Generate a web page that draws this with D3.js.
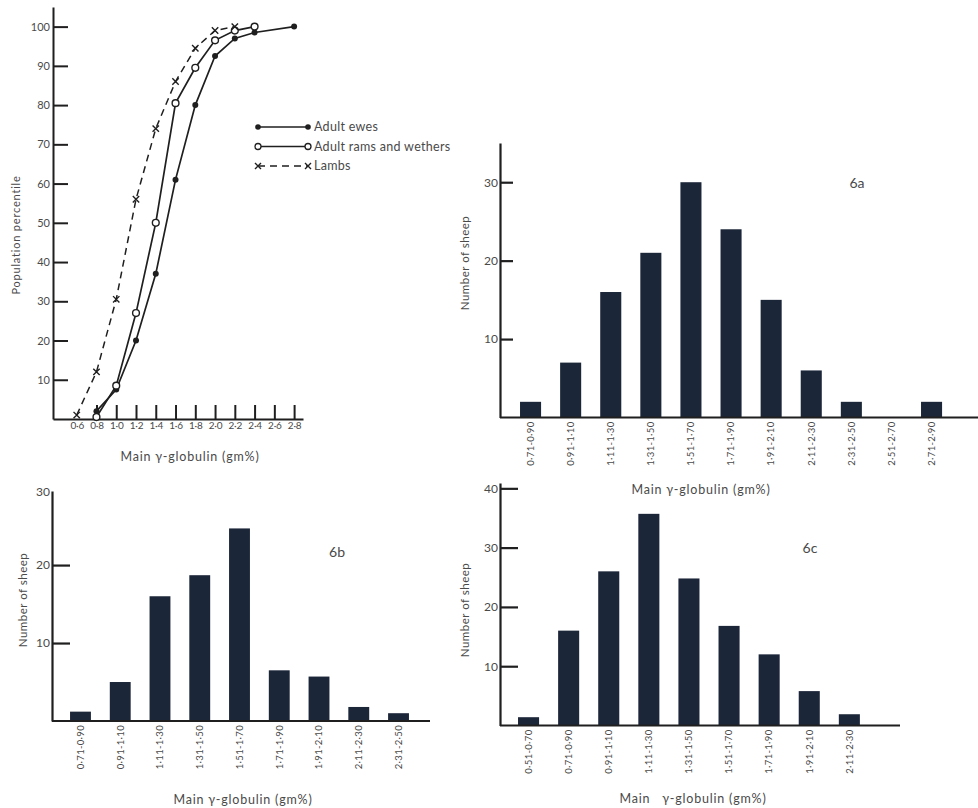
<!DOCTYPE html>
<html>
<head>
<meta charset="utf-8">
<script src="https://cdn.jsdelivr.net/npm/d3@7"></script>
<style>
  body { margin: 0; background: #fff; }
  svg { display: block; }
  text { font-family: Lato, "Open Sans", sans-serif; fill: #4a4a4a; }
</style>
</head>
<body>
<svg id="chart" width="978" height="808"></svg>
<script>
// ---- Cumulative percentile curves (top-left panel) ----
const gammaTickValues = [0.6, 0.8, 1.0, 1.2, 1.4, 1.6, 1.8, 2.0, 2.2, 2.4, 2.6, 2.8];
const percentileTicks = [10, 20, 30, 40, 50, 60, 70, 80, 90, 100];

const ewesGamma = [0.8, 1.0, 1.2, 1.4, 1.6, 1.8, 2.0, 2.2, 2.4, 2.8];
const ewesPct   = [2, 7.5, 20, 37, 61, 80, 92.5, 97, 98.5, 100];

const ramsGamma = [0.8, 1.0, 1.2, 1.4, 1.6, 1.8, 2.0, 2.2, 2.4];
const ramsPct   = [0.5, 8.5, 27, 50, 80.5, 89.5, 96.5, 99, 100];

const lambsGamma = [0.6, 0.8, 1.0, 1.2, 1.4, 1.6, 1.8, 2.0, 2.2];
const lambsPct   = [1, 12, 30.5, 56, 74, 86, 94.5, 99, 100];

const legendLabels = ["Adult ewes", "Adult rams and wethers", "Lambs"];

// ---- Frequency histograms (6a, 6b, 6c) ----
const cats6a = ["0·71-0·90", "0·91-1·10", "1·11-1·30", "1·31-1·50", "1·51-1·70", "1·71-1·90",
                "1·91-2·10", "2·11-2·30", "2·31-2·50", "2·51-2·70", "2·71-2·90"];
const sheep6a = [2, 7, 16, 21, 30, 24, 15, 6, 2, 0, 2];
const ticks6a = [10, 20, 30];

const cats6b = ["0·71-0·90", "0·91-1·10", "1·11-1·30", "1·31-1·50", "1·51-1·70", "1·71-1·90",
                "1·91-2·10", "2·11-2·30", "2·31-2·50"];
const sheep6b = [1.2, 5, 16, 18.7, 24.7, 6.5, 5.7, 1.8, 1];
const ticks6b = [10, 20];

const cats6c = ["0·51-0·70", "0·71-0·90", "0·91-1·10", "1·11-1·30", "1·31-1·50", "1·51-1·70",
                "1·71-1·90", "1·91-2·10", "2·11-2·30"];
const sheep6c = [1.4, 16, 26, 35.7, 24.8, 16.8, 12, 5.8, 1.9];
const ticks6c = [10, 20, 30, 40];

const xTitle = "Main γ-globulin (gm%)";
const yTitleBars = "Number of sheep";

// ---------------------------------------------------------------
const svg = d3.select("#chart");
const INK = "#1f1f1f";
const BAR = "#1c2639";
const fmt1 = d => d3.format(".1f")(d).replace(".", "·");

function styleAxis(g, width) {
  g.selectAll("path.domain").attr("stroke", INK).attr("stroke-width", width);
  g.selectAll(".tick line").attr("stroke", INK).attr("stroke-width", width);
  g.selectAll(".tick text").attr("fill", "#505050").style("font-family", "Lato, sans-serif");
}

// ---------------- Top-left: percentile curves ----------------
(function () {
  const x = d3.scaleLinear().domain([0.36, 2.89]).range([53, 303]);
  const y = d3.scaleLinear().domain([0, 105]).range([419, 7]);
  const g = svg.append("g");

  const yAxis = g.append("g").attr("transform", "translate(53,0)")
    .call(d3.axisLeft(y).tickValues(percentileTicks).tickSize(-15).tickSizeOuter(0).tickPadding(3));
  styleAxis(yAxis, 2);
  yAxis.selectAll(".tick text").attr("font-size", 11);

  const xAxis = g.append("g").attr("transform", "translate(0,419)")
    .call(d3.axisBottom(x).tickValues(gammaTickValues).tickFormat(fmt1)
      .tickSize(-14).tickSizeOuter(0).tickPadding(3));
  styleAxis(xAxis, 2);
  xAxis.selectAll(".tick text").attr("font-size", 10).attr("letter-spacing", -0.2);
  xAxis.selectAll(".tick").filter(d => d < 0.7).select("line").remove();

  const line = d3.line().x(d => x(d[0])).y(d => y(d[1]));
  const ewes = ewesGamma.map((v, i) => [v, ewesPct[i]]);
  const rams = ramsGamma.map((v, i) => [v, ramsPct[i]]);
  const lambs = lambsGamma.map((v, i) => [v, lambsPct[i]]);

  g.append("path").datum(lambs).attr("d", line).attr("fill", "none")
    .attr("stroke", INK).attr("stroke-width", 1.5).attr("stroke-dasharray", "7,5");
  g.append("path").datum(rams).attr("d", line).attr("fill", "none")
    .attr("stroke", INK).attr("stroke-width", 1.7);
  g.append("path").datum(ewes).attr("d", line).attr("fill", "none")
    .attr("stroke", INK).attr("stroke-width", 1.7);

  const cross = (sel, cx, cy, s) => {
    sel.append("path")
      .attr("d", `M${cx - s},${cy - s}L${cx + s},${cy + s}M${cx + s},${cy - s}L${cx - s},${cy + s}`)
      .attr("stroke", INK).attr("stroke-width", 1.4).attr("fill", "none");
  };

  g.selectAll("circle.ewe").data(ewes).join("circle").attr("class", "ewe")
    .attr("cx", d => x(d[0])).attr("cy", d => y(d[1])).attr("r", 3).attr("fill", INK);
  g.selectAll("circle.ram").data(rams).join("circle").attr("class", "ram")
    .attr("cx", d => x(d[0])).attr("cy", d => y(d[1])).attr("r", 3.4)
    .attr("fill", "#fff").attr("stroke", INK).attr("stroke-width", 1.4);
  lambs.forEach(d => cross(g, x(d[0]), y(d[1]), 3.2));

  // legend
  const lg = g.append("g").attr("transform", "translate(258,127)");
  const rowH = 19.5;
  legendLabels.forEach((lab, i) => {
    const ly = i * rowH;
    lg.append("line").attr("x1", 0).attr("x2", 50).attr("y1", ly).attr("y2", ly)
      .attr("stroke", INK).attr("stroke-width", 1.6)
      .attr("stroke-dasharray", i === 2 ? "7,5" : null);
    if (i === 0) {
      [0, 50].forEach(px => lg.append("circle").attr("cx", px).attr("cy", ly).attr("r", 2.8).attr("fill", INK));
    } else if (i === 1) {
      [0, 50].forEach(px => lg.append("circle").attr("cx", px).attr("cy", ly).attr("r", 3)
        .attr("fill", "#fff").attr("stroke", INK).attr("stroke-width", 1.3));
    } else {
      [0, 50].forEach(px => cross(lg, px, ly, 3));
    }
    lg.append("text").attr("x", 56).attr("y", ly).attr("dy", "0.35em")
      .attr("font-size", 12.5).attr("letter-spacing", 0.3).text(lab);
  });

  g.append("text").attr("transform", "translate(16,235) rotate(-90)")
    .attr("text-anchor", "middle").attr("dy", "0.35em").attr("font-size", 11)
    .attr("letter-spacing", 0.8).text("Population percentile");
  g.append("text").attr("x", 190).attr("y", 457).attr("dy", "0.35em")
    .attr("text-anchor", "middle").attr("font-size", 12.5).attr("letter-spacing", 0.8).text(xTitle);
})();

// ---------------- Histogram panels ----------------
function barPanel(cfg, cats, vals, ticks) {
  const g = svg.append("g");
  const x = d3.scaleBand().domain(cats).range([cfg.x0, cfg.x1])
    .paddingInner(0.475).paddingOuter(0.2375);
  const y = d3.scaleLinear().domain([0, cfg.yMax]).range([cfg.base, cfg.top]);

  g.selectAll("rect").data(cats).join("rect")
    .attr("x", c => x(c)).attr("width", x.bandwidth())
    .attr("y", (c, i) => y(vals[i])).attr("height", (c, i) => y(0) - y(vals[i]))
    .attr("fill", BAR);

  // baseline
  g.append("line").attr("x1", cfg.axisX).attr("x2", cfg.baseEnd)
    .attr("y1", y(0)).attr("y2", y(0)).attr("stroke", INK).attr("stroke-width", 2.2);

  const yAxis = g.append("g").attr("transform", `translate(${cfg.axisX},0)`)
    .call(d3.axisLeft(y).tickValues(ticks).tickSize(-cfg.tickLen).tickSizeOuter(0).tickPadding(2));
  styleAxis(yAxis, 2.2);
  yAxis.selectAll(".tick text").attr("font-size", 12);
  if (cfg.headLabel) {
    yAxis.append("text").attr("x", -2).attr("y", cfg.top + 1).attr("dy", "0.32em")
      .attr("text-anchor", "end").attr("font-size", 12).attr("fill", "#505050").text(cfg.headLabel);
  }

  // rotated category labels
  g.selectAll("text.cat").data(cats).join("text").attr("class", "cat")
    .attr("transform", c => `translate(${x(c) + x.bandwidth() / 2},${y(0) + 4}) rotate(-90)`)
    .attr("text-anchor", "end").attr("dy", "0.35em").attr("font-size", 9.5)
    .attr("letter-spacing", 0.3).text(c => c);

  g.append("text").attr("transform", `translate(${cfg.yTitle[0]},${cfg.yTitle[1]}) rotate(-90)`)
    .attr("text-anchor", "middle").attr("dy", "0.35em").attr("font-size", 11.5)
    .attr("letter-spacing", 0.5).text(yTitleBars);
  g.append("text").attr("x", cfg.xTitle[0]).attr("y", cfg.xTitle[1]).attr("dy", "0.35em")
    .attr("text-anchor", "middle").attr("font-size", 12.5).attr("letter-spacing", 0.8)
    .style("white-space", "pre").text(cfg.xTitleText || xTitle);
  g.append("text").attr("x", cfg.tag[0]).attr("y", cfg.tag[1]).attr("dy", "0.35em")
    .attr("text-anchor", "middle").attr("font-size", 14).text(cfg.tagText);
}

barPanel({ x0: 510.5, x1: 951.6, base: 417.5, top: 143, yMax: 35, axisX: 500, baseEnd: 978,
           tickLen: 13, yTitle: [465, 263], xTitle: [701, 490], tag: [857, 183], tagText: "6a" },
         cats6a, sheep6a, ticks6a);

barPanel({ x0: 60.6, x1: 418.4, base: 721, top: 491, yMax: 29.5, axisX: 52, baseEnd: 430,
           tickLen: 18, yTitle: [23, 600], xTitle: [243, 800], tag: [337, 552], tagText: "6b",
           headLabel: "30" },
         cats6b, sheep6b, ticks6b);

barPanel({ x0: 508.5, x1: 869.4, base: 725.5, top: 483, yMax: 40.9, axisX: 500, baseEnd: 900,
           tickLen: 18, yTitle: [465, 610], xTitle: [693, 799], tag: [810, 548], tagText: "6c",
           xTitleText: "Main   γ-globulin (gm%)" },
         cats6c, sheep6c, ticks6c);
</script>
</body>
</html>
